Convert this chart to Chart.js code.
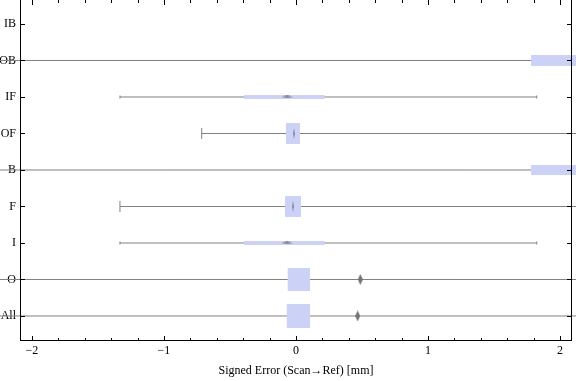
<!DOCTYPE html>
<html><head><meta charset="utf-8">
<script src="https://cdn.jsdelivr.net/npm/chart.js@4"></script>
<style>html,body{margin:0;padding:0;background:#fff}</style>
</head><body><canvas id="c" width="576" height="381"></canvas>
<script>
// ---- data (rows listed top to bottom as displayed) ----
const categories  = ['IB','OB','IF','OF','B','F','I','O','All'];
const whiskerLow  = [null, -2.4, -1.333, -0.714, -2.4, -1.333, -1.333, -2.4, -2.4];
const quartile1   = [null, 1.780, -0.392, -0.076, 1.780, -0.083, -0.392, -0.063, -0.070];
const medians     = [null, null, -0.068, -0.013, null, -0.019, -0.068, null, null];
const quartile3   = [null, 2.4, 0.217, 0.030, 2.4, 0.038, 0.217, 0.106, 0.106];
const whiskerHigh = [null, 2.4, 1.823, 2.4, 2.4, 2.4, 1.823, 2.4, 2.4];
const outliers    = [null, null, null, null, null, null, null, 0.487, 0.467];
const xTicks      = [-2, -1, 0, 1, 2];
const axisTitle   = 'Signed Error (Scan\u2192Ref) [mm]';

// ---- styles ----
const boxHeightPx = [0, 11, 4, 21, 10, 21, 4, 23, 24];
const capLengthPx = [0, 0, 3, 11, 0, 11, 3, 0, 0];
const medianShape = [null, null, 'h', 'v', null, 'v', 'h', null, null];
const whiskerColor = '#808080';
const boxColor = 'rgb(204,210,246)';
const font = {family: "'Liberation Serif','DejaVu Serif',serif", size: 12};

function shape(w, h, color) {
  const c = document.createElement('canvas');
  c.width = w; c.height = h;
  const g = c.getContext('2d');
  g.fillStyle = color;
  g.beginPath();
  g.moveTo(w/2, 0); g.lineTo(w, h/2); g.lineTo(w/2, h); g.lineTo(0, h/2);
  g.closePath(); g.fill();
  return c;
}
const medianH = shape(11, 3, 'rgba(110,110,120,0.75)');
const medianV = shape(2, 11, 'rgba(120,120,135,0.8)');
const outlierMark = shape(5, 11, 'rgb(115,115,115)');

const n = categories.length;
const rowY = i => n - i;
const datasets = [];
categories.forEach((cat, i) => {
  if (whiskerLow[i] === null) return;
  const y = rowY(i);
  datasets.push({
    data: [{x: whiskerLow[i], y}, {x: whiskerHigh[i], y}],
    showLine: true, borderColor: whiskerColor, borderWidth: 1,
    pointStyle: 'line', pointRotation: 90,
    pointRadius: capLengthPx[i] / 2, pointBorderColor: whiskerColor, pointBorderWidth: 1,
    clip: false, order: 3
  });
  datasets.push({
    data: [{x: quartile1[i], y}, {x: quartile3[i], y}],
    showLine: true, borderColor: boxColor, borderWidth: boxHeightPx[i], borderCapStyle: 'butt',
    pointRadius: 0, clip: false, order: 2
  });
  if (medians[i] !== null) {
    datasets.push({
      data: [{x: medians[i], y}],
      pointStyle: medianShape[i] === 'h' ? medianH : medianV, pointRadius: 5,
      clip: false, order: 1
    });
  }
  if (outliers[i] !== null) {
    datasets.push({
      data: [{x: outliers[i], y}],
      pointStyle: outlierMark, pointRadius: 5, clip: false, order: 1
    });
  }
});

const framePlugin = {
  id: 'frame',
  afterDraw(chart) {
    const {ctx, chartArea: a, scales: {x, y}} = chart;
    ctx.save();
    ctx.strokeStyle = '#000';
    ctx.lineWidth = 1;
    ctx.beginPath();
    ctx.moveTo(a.left + 0.5, a.top); ctx.lineTo(a.left + 0.5, a.bottom);
    ctx.moveTo(a.left, a.bottom - 0.5); ctx.lineTo(a.right, a.bottom - 0.5);
    ctx.moveTo(a.right - 0.5, a.top); ctx.lineTo(a.right - 0.5, a.bottom);
    for (let k = -10; k <= 10; k++) {
      const px = Math.round(x.getPixelForValue(k / 5)) + 0.5;
      const len = (k % 5 === 0) ? 5 : 3;
      ctx.moveTo(px, a.bottom); ctx.lineTo(px, a.bottom - len);
      ctx.moveTo(px, a.top); ctx.lineTo(px, a.top + len);
    }
    categories.forEach((c, i) => {
      const py = Math.round(y.getPixelForValue(rowY(i))) + 0.5;
      ctx.moveTo(a.left, py); ctx.lineTo(a.left + 5, py);
      ctx.moveTo(a.right, py); ctx.lineTo(a.right - 5, py);
    });
    ctx.stroke();
    ctx.restore();
  }
};

new Chart(document.getElementById('c'), {
  type: 'scatter',
  data: {datasets},
  plugins: [framePlugin],
  options: {
    responsive: false, animation: false, devicePixelRatio: 1,
    layout: {autoPadding: false, padding: {left: 0, right: 4, top: 0, bottom: 0}},
    plugins: {legend: {display: false}, tooltip: {enabled: false}},
    scales: {
      x: {
        type: 'linear', min: -2.09, max: 2.09,
        grid: {display: false, drawTicks: false}, border: {display: false},
        afterBuildTicks: s => { s.ticks = xTicks.map(v => ({value: v})); },
        ticks: {callback: v => (v < 0 ? '\u2212' : '') + Math.abs(v), font, color: '#000',
                padding: 3, maxRotation: 0, autoSkip: false},
        title: {display: true, text: axisTitle, font, color: '#000', padding: {top: 0, bottom: 3}},
        afterFit: s => { s.height = 40; s.paddingLeft = 0; s.paddingRight = 0; }
      },
      y: {
        type: 'linear', min: 0.315, max: 9.657,
        grid: {display: false, drawTicks: false}, border: {display: false},
        afterBuildTicks: s => { s.ticks = categories.map((c, i) => ({value: rowY(i)})); },
        ticks: {callback: v => categories[n - v], font, color: '#000', padding: 4, autoSkip: false},
        afterFit: s => { s.width = 20; s.paddingTop = 0; s.paddingBottom = 0; }
      }
    }
  }
});
</script>
</body></html>
